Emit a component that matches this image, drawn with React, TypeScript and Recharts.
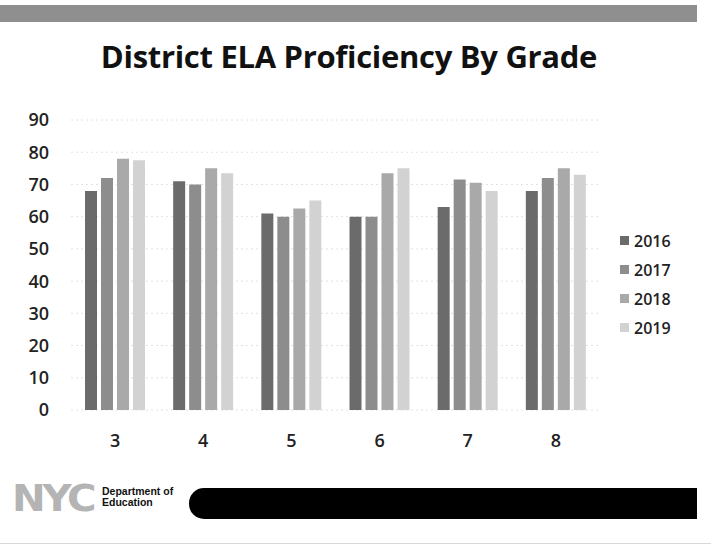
import React from "react";
import { BarChart, Bar, XAxis, YAxis, CartesianGrid } from "recharts";

const grades = ["3", "4", "5", "6", "7", "8"];
const y2016 = [68, 71, 61, 60, 63, 68];
const y2017 = [72, 70, 60, 60, 71.5, 72];
const y2018 = [78, 75, 62.5, 73.5, 70.5, 75];
const y2019 = [77.5, 73.5, 65, 75, 68, 73];
const years = ["2016", "2017", "2018", "2019"];
const yTicks = [0, 10, 20, 30, 40, 50, 60, 70, 80, 90];

const colors = ["#6b6b6b", "#8d8d8d", "#a9a9a9", "#d2d2d2"];
const series = [y2016, y2017, y2018, y2019];

const data = grades.map((g, i) => {
  const row: Record<string, string | number> = { grade: g };
  years.forEach((y, k) => {
    row[y] = series[k][i];
  });
  return row;
});

const FONT = "'Open Sans', 'DejaVu Sans', sans-serif";

export default function App() {
  return (
    <div
      style={{
        position: "absolute",
        left: 0,
        top: 0,
        width: 711,
        height: 550,
        background: "#fff",
        overflow: "hidden",
        fontFamily: FONT,
      }}
    >
      <div
        style={{
          position: "absolute",
          left: 0,
          top: 5,
          width: 697,
          height: 17,
          background: "#8f8f8f",
        }}
      />
      <div
        style={{
          position: "absolute",
          left: 0,
          top: 36,
          width: 698,
          textAlign: "center",
          fontSize: 31,
          lineHeight: "40px",
          fontWeight: 700,
          color: "#111",
          letterSpacing: -0.3,
        }}
      >
        District ELA Proficiency By Grade
      </div>
      <BarChart
        width={711}
        height={550}
        data={data}
        margin={{ top: 120, right: 111, bottom: 110, left: 21 }}
        barSize={12}
        barGap={4}
        style={{ position: "absolute", left: 0, top: 0 }}
      >
        <CartesianGrid
          vertical={false}
          stroke="#e2e2e2"
          strokeDasharray="2 3"
        />
        <XAxis
          dataKey="grade"
          axisLine={false}
          tickLine={false}
          height={30}
          tickMargin={18}
          tick={{ fontSize: 18, fontWeight: 600, fill: "#222", fontFamily: FONT }}
        />
        <YAxis
          domain={[0, 90]}
          ticks={yTicks}
          interval={0}
          axisLine={false}
          tickLine={false}
          width={50}
          tickMargin={16}
          tick={{ fontSize: 18, fontWeight: 600, fill: "#222", fontFamily: FONT }}
        />
        {years.map((y, k) => (
          <Bar key={y} dataKey={y} fill={colors[k]} isAnimationActive={false} />
        ))}
      </BarChart>
      <div style={{ position: "absolute", left: 620, top: 226 }}>
        {years.map((y, k) => (
          <div
            key={y}
            style={{ display: "flex", alignItems: "center", height: 29 }}
          >
            <span
              style={{
                width: 9,
                height: 9,
                background: colors[k],
                display: "inline-block",
                marginRight: 5,
              }}
            />
            <span style={{ fontSize: 16, fontWeight: 600, color: "#222" }}>{y}</span>
          </div>
        ))}
      </div>
      <div
        style={{
          position: "absolute",
          left: 12,
          top: 475,
          fontSize: 38,
          lineHeight: "46px",
          fontWeight: 900,
          color: "#b4b4b4",
          fontFamily: "'DejaVu Sans', sans-serif",
          letterSpacing: -3,
          transform: "scaleX(1.06)",
          transformOrigin: "left",
        }}
      >
        NYC
      </div>
      <div
        style={{
          position: "absolute",
          left: 102,
          top: 486,
          fontSize: 10.5,
          fontWeight: 700,
          lineHeight: "11px",
          color: "#111",
          fontFamily: "'Liberation Sans', Arial, sans-serif",
        }}
      >
        Department of
        <br />
        Education
      </div>
      <div
        style={{
          position: "absolute",
          left: 189,
          top: 488,
          width: 508,
          height: 31,
          background: "#000",
          borderRadius: "15px 0 0 15px",
        }}
      />
      <div
        style={{
          position: "absolute",
          left: 0,
          top: 543,
          width: 711,
          height: 1,
          background: "#d8d8d8",
        }}
      />
    </div>
  );
}
